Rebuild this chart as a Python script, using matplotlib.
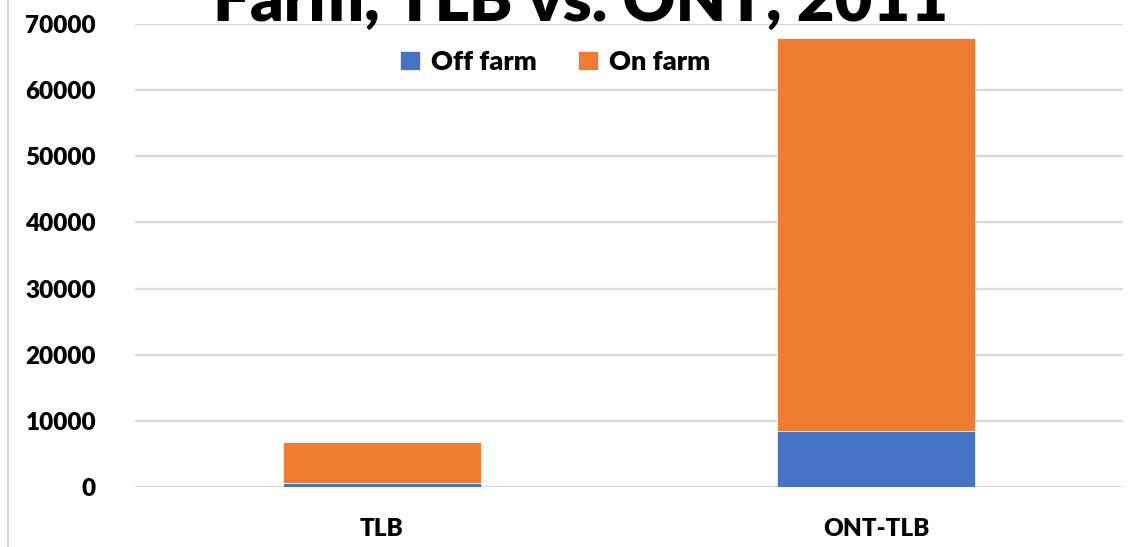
import matplotlib
matplotlib.use("Agg")
import matplotlib.pyplot as plt
from matplotlib.lines import Line2D

categories = ["TLB", "ONT-TLB"]
off_farm = [650, 8400]
on_farm = [6200, 59500]
series_names = ["Off farm", "On farm"]
yticks = [0, 10000, 20000, 30000, 40000, 50000, 60000, 70000]
title = "Farm, TLB vs. ONT, 2011"

blue = "#4472C4"
orange = "#ED7D31"
grid = "#D9D9D9"

plt.rcParams['font.family'] = ['Lato', 'DejaVu Sans']

fig = plt.figure(figsize=(11.4, 5.47), dpi=100)
ax = fig.add_axes([135/1140, 60/547, (1123-135)/1140, (487-24)/547])

x = list(range(len(categories)))
ax.bar(x, off_farm, width=0.4, color=blue, label=series_names[0], zorder=3,
       edgecolor="white", linewidth=0.5)
ax.bar(x, on_farm, width=0.4, bottom=off_farm, color=orange, label=series_names[1],
       zorder=3, edgecolor="white", linewidth=0.5)

ax.set_xlim(-0.5, len(categories) - 0.5)
ax.set_ylim(0, 70000)
ax.set_yticks(yticks)
ax.set_yticklabels([str(v) for v in yticks], fontsize=17.5, fontweight="heavy")
ax.set_xticks(x)
ax.set_xticklabels(categories, fontsize=17.5, fontweight="heavy")
ax.tick_params(axis="both", length=0)
ax.tick_params(axis="y", pad=28)
ax.tick_params(axis="x", pad=22)
ax.grid(axis="y", color=grid, linewidth=1.6, zorder=0)
for s in ax.spines.values():
    s.set_visible(False)

leg = ax.legend(loc="center", bbox_to_anchor=(555/1140, 1 - 62/547),
                bbox_transform=fig.transFigure, ncol=2, frameon=False,
                prop={"size": 19.5, "weight": "heavy"}, handlelength=0.75,
                handleheight=0.75, handletextpad=0.4, columnspacing=1.5)

fig.text(581/1140, 1 - 21/547, title, ha="center", va="baseline",
         fontsize=47, fontweight="heavy")

fig.add_artist(Line2D([8/1140, 8/1140], [0, 1], transform=fig.transFigure,
                      color=grid, linewidth=1.5))

fig.savefig("out.png", dpi=100)
